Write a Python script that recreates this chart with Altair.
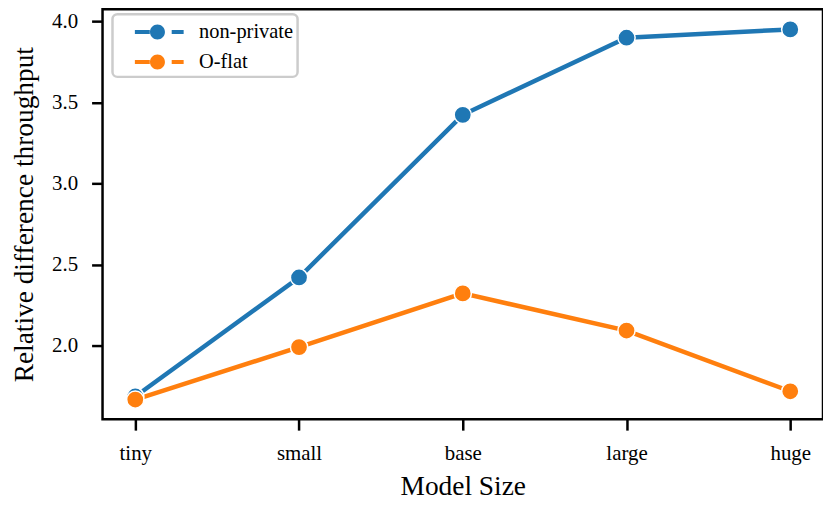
import altair as alt
import pandas as pd

sizes = ["tiny", "small", "base", "large", "huge"]
non_private = [1.688, 2.421, 3.423, 3.898, 3.949]
o_flat = [1.669, 1.992, 2.323, 2.094, 1.720]
series_names = ["non-private", "O-flat"]
series_colors = ["#1f77b4", "#ff7f0e"]
y_ticks = [2.0, 2.5, 3.0, 3.5, 4.0]

rows = []
for name, vals in zip(series_names, [non_private, o_flat]):
    for i, (s, v) in enumerate(zip(sizes, vals)):
        rows.append({"size": s, "value": v, "series": name, "idx": i})
df = pd.DataFrame(rows)

FONT = "Liberation Serif"
PATH = ("M-1.815,-0.148L-0.704,-0.148L-0.704,0.148L-1.815,0.148Z "
        "M0.926,-0.148L1.815,-0.148L1.815,0.148L0.926,0.148Z "
        "M-0.689,0C-0.689,-0.307,-0.440,-0.556,-0.133,-0.556"
        "C0.174,-0.556,0.423,-0.307,0.423,0"
        "C0.423,0.307,0.174,0.556,-0.133,0.556"
        "C-0.440,0.556,-0.689,0.307,-0.689,0Z")

H = 412
x = alt.X("size:N", sort=sizes, scale=alt.Scale(type="point", padding=0.2),
          axis=alt.Axis(title="Model Size", labelAngle=0, titleY=76,
                        titleBaseline="alphabetic", labelPadding=13))
y = alt.Y("value:Q", scale=alt.Scale(domain=[1.548, 4.0736], nice=False, zero=False),
          axis=alt.Axis(title="Relative difference throughput", values=y_ticks, format=".1f",
                        labelPadding=14, titleX=-70, titleY=H / 2, titleAngle=270,
                        titleAlign="center", titleBaseline="alphabetic"))

color_scale = alt.Scale(domain=series_names, range=series_colors)
legend = alt.Legend(title=None, orient="none", legendX=10, legendY=5,
                    symbolType=PATH, symbolSize=729, symbolStrokeWidth=0,
                    symbolOffset=29, labelOffset=26.5, labelFont=FONT,
                    labelFontSize=20.5, labelColor="black", padding=4.5,
                    rowPadding=6, fillColor="white", strokeColor="#cccccc",
                    cornerRadius=5, symbolOpacity=1, labelLimit=400)

color = alt.Color("series:N", scale=color_scale, legend=legend)

lines = alt.Chart(df).mark_line(strokeWidth=4.5).encode(
    x=x, y=y, color=color, order="idx:Q",
)

points = alt.Chart(df).mark_circle(size=300, opacity=1, stroke="white", strokeWidth=1.5).encode(
    x=x, y=y, fill=color,
)

chart = (lines + points).properties(
    width=724, height=H,
    autosize=alt.AutoSizeParams(type="none"),
    padding={"left": 95, "top": 0, "right": 0, "bottom": 80},
).configure_view(
    stroke="black", strokeWidth=2.5
).configure_axis(
    grid=False, domain=False, tickColor="black", tickWidth=2.5, tickSize=11,
    labelFont=FONT, labelFontSize=21, labelColor="black",
    titleFont=FONT, titleFontSize=27.5, titleColor="black", titleFontWeight="normal",
).configure_legend(
    strokeWidth=2.5, labelFont=FONT, labelFontSize=20.5, labelColor="black",
    symbolType=PATH, symbolStrokeWidth=0
)

chart.save("out.html", embed_options={"renderer": "svg", "actions": False})
